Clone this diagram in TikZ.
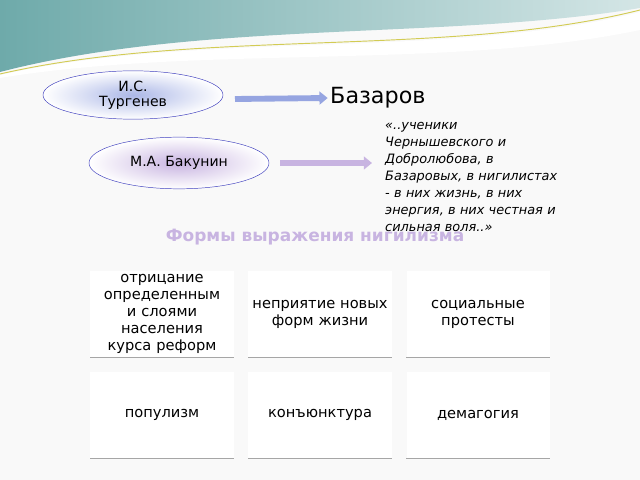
\documentclass[tikz,border=0pt]{standalone}
\usepackage{fontspec}
\setmainfont{DejaVu Sans}
\usetikzlibrary{shapes.geometric,positioning,arrows.meta}
\definecolor{teal1}{RGB}{110,170,170}
\definecolor{lilac}{RGB}{200,180,225}
\definecolor{bluel}{RGB}{150,165,225}
\begin{document}
\begin{tikzpicture}[x=0.03cm,y=-0.03cm,inner sep=0pt,
formbox/.style={fill=white,minimum width=4.29cm,minimum height=2.6cm,align=center,font=\fontsize{12.5}{14.5}\selectfont,text width=4.2cm},
author/.style={draw=blue!50!gray,ellipse,minimum width=5.4cm,minimum height=1.45cm,align=center,font=\fontsize{12}{13}\selectfont},
fatarrow/.style={line width=5pt,-{Triangle[length=7pt,width=11pt]}}]
\useasboundingbox (0,0) rectangle (640,480);
\fill[white!95!gray] (0,0) rectangle (640,480);
% top wave
\shade[left color=teal1,right color=teal1!30!white] (0,0) -- (640,0) -- (640,8) .. controls (450,40) and (200,20) .. (0,72) -- cycle;
\fill[white] (0,75) .. controls (200,30) and (450,60) .. (640,12) -- (640,30) .. controls (450,70) and (200,45) .. (0,78) -- cycle;
\draw[yellow!60!gray,thick] (0,74) .. controls (200,28) and (450,58) .. (640,10);
% authors
\node[author,inner color=bluel!80,outer color=white] (turg) at (133,95) {И.С.\\Тургенев};
\node[author,inner color=lilac,outer color=white,minimum height=1.55cm] (bak) at (179,163) {М.А. Бакунин};
\node[anchor=west,font=\fontsize{19}{20}\selectfont] (baz) at (330,98) {Базаров};
\node[anchor=north west,text width=5.5cm,font=\fontsize{11}{14.5}\selectfont\itshape] (quote) at (385,122) {«..ученики Чернышевского и Добролюбова, в Базаровых, в нигилистах - в них жизнь, в них энергия, в них честная и сильная воля..»};
\coordinate (a1) at (235,99);
\coordinate (a2) at (280,163);
\coordinate (a2e) at (372,163);
\draw[fatarrow,draw=bluel] (a1) -- ([xshift=-2pt]baz.west);
\draw[fatarrow,draw=lilac] (a2) -- (a2e);
\node[font=\fontsize{14.5}{15}\selectfont\bfseries,text=lilac] (title) at (315,237) {Формы выражения нигилизма};
% boxes
\foreach \n/\x/\y/\t in {b1/162/314/{отрицание определенным и слоями населения курса реформ},
 b2/320/314/{неприятие новых форм жизни},b3/478/314/{социальные протесты},
 b4/162/415/{популизм},b5/320/415/{конъюнктура},b6/478/415/{демагогия}}{
 \node[formbox] (\n) at (\x,\y) {\t};
 \draw[gray!70,line width=1.5pt] (\n.south west) -- (\n.south east);
}
\end{tikzpicture}
\end{document}
